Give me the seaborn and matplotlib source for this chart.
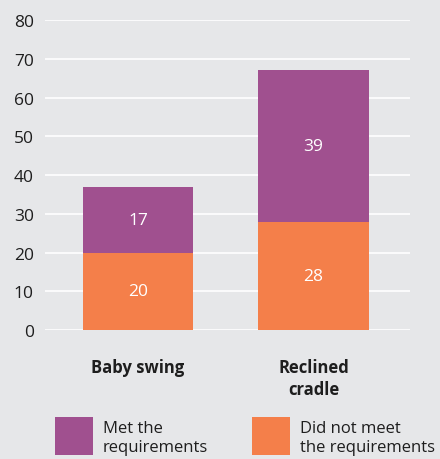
import matplotlib
matplotlib.use("Agg")
import matplotlib.pyplot as plt
from matplotlib.patches import Rectangle
import seaborn as sns
import pandas as pd

categories = ["Baby swing", "Reclined\ncradle"]
met = [17, 39]
not_met = [20, 28]
series_labels = ["Met the\nrequirements", "Did not meet\nthe requirements"]
y_ticks = [0, 10, 20, 30, 40, 50, 60, 70, 80]

purple = "#a0508f"
orange = "#f47f4a"
bg = "#e6e7e9"
ink = "#1e1e1e"

sns.set_theme(style="white")
plt.rcParams["font.family"] = ["Open Sans", "DejaVu Sans"]

df = pd.DataFrame({
    "category": categories,
    "met": met,
    "not_met": not_met,
})
df["total"] = df["met"] + df["not_met"]

W, H = 440, 460
fig = plt.figure(figsize=(W / 100, H / 100), dpi=100, facecolor=bg)
ax = fig.add_axes([45 / W, 129 / H, 365 / W, 310 / H])
ax.set_facecolor(bg)

# stacked bars: full height in purple, lower segment in orange on top
sns.barplot(data=df, x="category", y="total", color=purple, width=0.63,
            saturation=1, ax=ax, zorder=3, edgecolor="none", linewidth=0)
sns.barplot(data=df, x="category", y="not_met", color=orange, width=0.63,
            saturation=1, ax=ax, zorder=4, edgecolor="none", linewidth=0)

for i, row in df.iterrows():
    ax.text(i, row["not_met"] / 2, f"{row['not_met']}", ha="center", va="center",
            color="white", fontsize=12.5, zorder=5)
    ax.text(i, row["not_met"] + row["met"] / 2, f"{row['met']}", ha="center",
            va="center", color="white", fontsize=12.5, zorder=5)

ax.set_ylim(0, 80)
ax.set_xlim(-0.53, 1.55)
ax.set_yticks(y_ticks)
ax.set_yticklabels([str(t) for t in y_ticks], fontsize=12.5, color=ink)
ax.yaxis.grid(True, color="white", linewidth=1.2, zorder=0)
ax.set_axisbelow(True)
ax.tick_params(axis="y", length=0, pad=8)
ax.tick_params(axis="x", length=0, pad=20)
ax.set_xticks(range(len(categories)))
ax.set_xticklabels(categories, fontsize=12, fontweight="bold", color=ink,
                   linespacing=1.3)
ax.set_xlabel("")
ax.set_ylabel("")
for s in ax.spines.values():
    s.set_visible(False)

# legend: colour squares with two-line labels
legend_x = [55, 252]
for x0, col, lab in zip(legend_x, [purple, orange], series_labels):
    fig.add_artist(Rectangle((x0 / W, (H - 456) / H), 38 / W, 38 / H,
                             transform=fig.transFigure, facecolor=col,
                             edgecolor="none"))
    fig.text((x0 + 48) / W, (H - 439) / H, lab, ha="left", va="center",
             fontsize=12, color=ink, linespacing=1.25)

fig.savefig("out.png", dpi=100, facecolor=bg)
